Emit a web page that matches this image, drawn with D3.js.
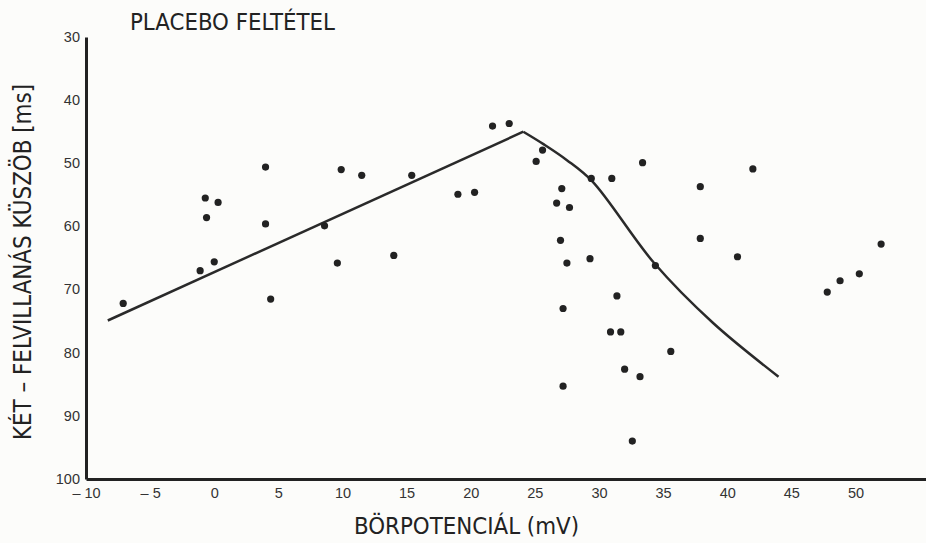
<!DOCTYPE html>
<html>
<head>
<meta charset="utf-8">
<script src="https://cdn.jsdelivr.net/npm/d3@7"></script>
<style>
  body { margin: 0; background: #fcfcfa; }
  svg { display: block; }
  .tick text { font-family: "Liberation Sans", Arial, sans-serif; font-size: 14.5px; fill: #333; }
  .label { font-family: "DejaVu Sans Condensed", "Liberation Sans", sans-serif; fill: #222; }
</style>
</head>
<body>
<svg id="chart" width="926" height="543"></svg>
<script>
// skin potential (mV) vs two-flash threshold (ms), placebo condition
const potential = [-7.1, -1.1, -0.7, -0.6, 0.3, 0.0, 4.0, 4.0, 4.4, 8.6, 9.6, 9.9, 11.5, 14.0, 15.4,
  19.0, 20.3, 21.7, 23.0, 25.1, 25.6, 26.7, 27.1, 27.7, 27.0, 27.5, 27.2, 27.2, 29.3, 29.4,
  31.0, 30.9, 31.4, 31.7, 32.0, 32.6, 33.2, 33.4, 34.4, 35.6, 37.9, 37.9, 40.8, 42.0, 47.8,
  48.8, 50.3, 52.0];
const threshold = [72.2, 67.0, 55.5, 58.6, 56.2, 65.6, 50.6, 59.6, 71.5, 59.9, 65.8, 51.0, 51.9, 64.6, 51.9,
  54.9, 54.6, 44.1, 43.7, 49.7, 47.9, 56.3, 54.0, 57.0, 62.2, 65.8, 73.0, 85.3, 65.1, 52.4,
  52.4, 76.7, 71.0, 76.7, 82.6, 94.0, 83.8, 49.9, 66.2, 79.8, 53.7, 61.9, 64.8, 50.9, 70.4,
  68.6, 67.5, 62.8];

// fitted curve: rising straight part, then a bending falling part
const riseX = [-8.3, 24.1];
const riseY = [74.9, 45.0];
const fallX = [24.1, 25.7, 27.5, 29.5, 34.3, 38.9, 44.0];
const fallY = [45.0, 47.0, 49.5, 52.9, 65.8, 75.3, 83.8];

const xTicks = [-10, -5, 0, 5, 10, 15, 20, 25, 30, 35, 40, 45, 50];
const yTicks = [30, 40, 50, 60, 70, 80, 90, 100];

const svg = d3.select('#chart');

const x = d3.scaleLinear().domain([-10, 55.5]).range([86, 926]);
const y = d3.scaleLinear().domain([30, 100]).range([37, 479]);

// axes
const xAxis = svg.append('g')
    .attr('transform', `translate(0,${y(100)})`)
    .call(d3.axisBottom(x).tickValues(xTicks).tickSize(0).tickPadding(9)
        .tickFormat(d => d < 0 ? '\u2013 ' + Math.abs(d) : d));
const yAxis = svg.append('g')
    .attr('transform', `translate(${x(-10)},0)`)
    .call(d3.axisLeft(y).tickValues(yTicks).tickSize(0).tickPadding(6));

[xAxis, yAxis].forEach(a => a.select('.domain').attr('stroke', '#222').attr('stroke-width', 3));
yAxis.selectAll('.tick text').attr('dy', '0.3em');

// fit line
const line = d3.line().x(d => x(d[0])).y(d => y(d[1]));
svg.append('path')
    .datum(riseX.map((v, i) => [v, riseY[i]]))
    .attr('fill', 'none')
    .attr('stroke', '#2a2a2a')
    .attr('stroke-width', 2.5)
    .attr('d', line);
svg.append('path')
    .datum(fallX.map((v, i) => [v, fallY[i]]))
    .attr('fill', 'none')
    .attr('stroke', '#2a2a2a')
    .attr('stroke-width', 2.5)
    .attr('d', line.curve(d3.curveCatmullRom.alpha(0.5)));

// dots
svg.append('g').selectAll('circle')
    .data(potential.map((v, i) => [v, threshold[i]]))
    .join('circle')
    .attr('cx', d => x(d[0]))
    .attr('cy', d => y(d[1]))
    .attr('r', 3.6)
    .attr('fill', '#222');

// labels
svg.append('text').attr('class', 'label')
    .attr('x', 130).attr('y', 30)
    .attr('font-size', 23)
    .attr('textLength', 205).attr('lengthAdjust', 'spacingAndGlyphs')
    .text('PLACEBO  FELTÉTEL');

svg.append('text').attr('class', 'label')
    .attr('x', 354).attr('y', 534)
    .attr('font-size', 23)
    .attr('textLength', 225).attr('lengthAdjust', 'spacingAndGlyphs')
    .text('BÖRPOTENCIÁL (mV)');

svg.append('text').attr('class', 'label')
    .attr('transform', 'translate(31,440) rotate(-90)')
    .attr('font-size', 25)
    .attr('textLength', 356).attr('lengthAdjust', 'spacingAndGlyphs')
    .text('KÉT – FELVILLANÁS  KÜSZÖB [ms]');
</script>
</body>
</html>
